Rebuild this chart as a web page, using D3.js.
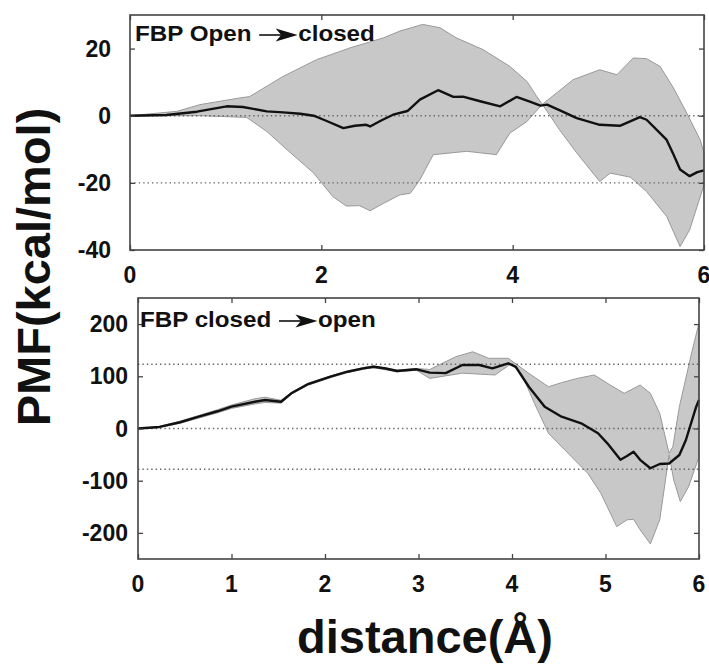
<!DOCTYPE html>
<html>
<head>
<meta charset="utf-8">
<script src="https://cdn.jsdelivr.net/npm/d3@7"></script>
<style>
  html, body { margin: 0; padding: 0; background: #fff; }
  svg { display: block; }
  text { font-family: "Liberation Sans", Arial, sans-serif; font-weight: bold; fill: #111; }
</style>
</head>
<body>
<svg id="chart" width="709" height="665"></svg>
<script>
// ---------- Panel A: FBP open -> closed (kcal/mol) ----------
const openMean = [
  [0, 0], [0.38, 0.2], [0.7, 1.2], [1.01, 2.8], [1.18, 2.6], [1.43, 1.3], [1.6, 1.0], [1.78, 0.6],
  [1.92, 0], [2.05, -1.5], [2.23, -3.7], [2.35, -3.0], [2.47, -2.7], [2.51, -3.2], [2.62, -1.5],
  [2.75, 0.3], [2.9, 1.4], [3.03, 4.8], [3.22, 7.6], [3.38, 5.6], [3.48, 5.7], [3.66, 4.3],
  [3.87, 2.8], [4.04, 5.6], [4.18, 4.2], [4.29, 3.0], [4.36, 3.3], [4.5, 1.5], [4.67, -0.7],
  [4.91, -2.7], [5.12, -3.0], [5.33, -0.4], [5.40, -1.2], [5.54, -5.2], [5.61, -7.2],
  [5.68, -11.5], [5.75, -16.0], [5.85, -18.0], [5.93, -16.8], [6.0, -16.3]
];
const openUpper = [
  [0, 0], [0.49, 1.3], [0.73, 3.3], [1.15, 5.3], [1.25, 5.7], [1.6, 11.7], [1.95, 16.7],
  [2.3, 20.2], [2.65, 23.2], [2.82, 25.2], [3.06, 27.2], [3.24, 26.2], [3.41, 23.2],
  [3.69, 19.7], [3.97, 14.7], [4.15, 10.2], [4.25, 5.8], [4.31, 3.4], [4.46, 6.8],
  [4.63, 10.7], [4.91, 13.7], [5.09, 12.2], [5.26, 17.2], [5.40, 17.0], [5.54, 14.7],
  [5.68, 8.3], [5.82, 0.8], [5.96, -7.2], [6.0, -11.0]
];
const openLower = [
  [0, 0], [0.73, 0], [1.22, -0.5], [1.43, -4.7], [1.64, -10.1], [1.92, -17.1], [2.12, -24.1],
  [2.26, -26.9], [2.40, -26.8], [2.51, -28.3], [2.65, -26.1], [2.82, -23.6], [2.93, -23.1],
  [3.03, -19.1], [3.17, -11.6], [3.52, -10.6], [3.83, -11.6], [3.97, -5.2], [4.15, -1.7],
  [4.31, 3.4], [4.49, -4.2], [4.67, -11.1], [4.91, -19.6], [5.02, -17.1], [5.23, -18.3],
  [5.40, -22.6], [5.61, -30.0], [5.75, -39.0], [5.85, -34.0], [6.0, -20.6]
];
const openRefLines = [0, -20];
const openYTicks = [20, 0, -20, -40];
const openXTicks = [0, 2, 4, 6];

// ---------- Panel B: FBP closed -> open (kcal/mol) ----------
const closedMean = [
  [0, 0], [0.23, 3], [0.45, 12], [0.65, 22.6], [0.85, 33], [1.0, 41.8], [1.25, 51.3],
  [1.36, 54.6], [1.53, 51.3], [1.64, 67.4], [1.82, 85.2], [2.06, 99.2], [2.24, 108.8],
  [2.41, 115.3], [2.52, 118.4], [2.65, 115], [2.77, 110.2], [2.98, 113.4], [3.12, 107],
  [3.29, 106], [3.47, 121.6], [3.65, 121.6], [3.79, 115.3], [3.96, 124.9], [4.04, 118],
  [4.18, 80], [4.35, 41.8], [4.53, 22.6], [4.74, 10], [4.92, -9.2], [5.02, -28.4],
  [5.16, -60], [5.23, -52.7], [5.30, -44.4], [5.37, -60], [5.48, -76.2], [5.58, -68],
  [5.68, -67], [5.79, -50.8], [5.86, -22], [5.97, 41.8], [6.0, 54.6]
];
const closedUpper = [
  [0, 0], [0.23, 4], [0.45, 14], [0.65, 25], [0.85, 36], [1.0, 45], [1.25, 57], [1.36, 60],
  [1.53, 54], [1.64, 69], [1.82, 87], [2.06, 101], [2.24, 110], [2.41, 117], [2.52, 120],
  [2.77, 112], [2.98, 115], [3.12, 113], [3.40, 137.6], [3.58, 147], [3.75, 134.5],
  [3.96, 134.5], [4.18, 105.7], [4.39, 80], [4.53, 87.8], [4.70, 96], [4.88, 102.5],
  [5.05, 83.3], [5.20, 67.4], [5.37, 83.3], [5.48, 67.4], [5.58, 29], [5.68, -47.5],
  [5.72, -35], [5.79, 41.8], [5.92, 144], [5.99, 195], [6.0, 200]
];
const closedLower = [
  [0, 0], [0.23, 2], [0.45, 10], [0.65, 20], [0.85, 30], [1.0, 38.5], [1.25, 47], [1.36, 50],
  [1.53, 48.5], [1.64, 65.5], [1.82, 83], [2.06, 97.5], [2.24, 107], [2.41, 113.5],
  [2.52, 116.5], [2.77, 108.5], [2.98, 111.5], [3.12, 96], [3.47, 106], [3.82, 102.5],
  [3.99, 124], [4.10, 106], [4.24, 48.3], [4.39, -9.2], [4.60, -47.5], [4.81, -85.8],
  [4.95, -124], [5.12, -188], [5.23, -175], [5.30, -174], [5.37, -194], [5.48, -221],
  [5.58, -175], [5.68, -50.8], [5.73, -98.7], [5.80, -140], [5.89, -111], [6.0, -54]
];
const closedRefLines = [123, 0, -78];
const closedYTicks = [200, 100, 0, -100, -200];
const closedXTicks = [0, 1, 2, 3, 4, 5, 6];

const svg = d3.select("#chart");

function drawPanel(cfg) {
  const x = d3.scaleLinear().domain([0, 6]).range([cfg.left, cfg.right]);
  const y = d3.scaleLinear().domain(cfg.yDomain).range([cfg.bottom, cfg.top]);
  const g = svg.append("g");

  // confidence band: upper edge forward, lower edge back
  const poly = cfg.upper.concat(cfg.lower.slice().reverse());
  const line = d3.line().x(d => x(d[0])).y(d => y(d[1]));
  g.append("path")
    .attr("d", line(poly) + "Z")
    .attr("fill", "#c8c8c8")
    .attr("stroke", "#999")
    .attr("stroke-width", 1);

  // dotted reference levels
  g.selectAll("line.ref").data(cfg.refs).join("line")
    .attr("x1", cfg.left).attr("x2", cfg.right)
    .attr("y1", d => y(d)).attr("y2", d => y(d))
    .attr("stroke", "#666").attr("stroke-width", 1.4)
    .attr("stroke-dasharray", "1.4,3");

  // mean PMF
  g.append("path")
    .attr("d", line(cfg.mean))
    .attr("fill", "none")
    .attr("stroke", "#111")
    .attr("stroke-width", 2.4)
    .attr("stroke-linejoin", "round");

  // inward ticks on all four sides
  const tl = 5;
  const axB = d3.axisBottom(x).tickValues(cfg.xTicks).tickSize(-tl).tickFormat("");
  const axT = d3.axisTop(x).tickValues(cfg.xTicks).tickSize(-tl).tickFormat("");
  const axL = d3.axisLeft(y).tickValues(cfg.yTicks).tickSize(-tl).tickFormat("");
  const axR = d3.axisRight(y).tickValues(cfg.yTicks).tickSize(-tl).tickFormat("");
  [[axB, `translate(0,${cfg.bottom})`], [axT, `translate(0,${cfg.top})`],
   [axL, `translate(${cfg.left},0)`], [axR, `translate(${cfg.right},0)`]].forEach(([ax, tr]) => {
    const a = g.append("g").attr("transform", tr).call(ax);
    a.select(".domain").remove();
    a.selectAll("line").attr("stroke", "#444").attr("stroke-width", 1.3);
  });

  // frame
  g.append("rect")
    .attr("x", cfg.left).attr("y", cfg.top)
    .attr("width", cfg.right - cfg.left).attr("height", cfg.bottom - cfg.top)
    .attr("fill", "none").attr("stroke", "#444").attr("stroke-width", 1.6);

  // tick labels
  g.selectAll("text.xl").data(cfg.xTicks).join("text")
    .attr("x", d => x(d)).attr("y", cfg.bottom + cfg.xLabelDrop)
    .attr("text-anchor", "middle").attr("font-size", 23)
    .text(d => d);
  g.selectAll("text.yl").data(cfg.yTicks).join("text")
    .attr("x", cfg.left - cfg.labelGap).attr("y", d => y(d) + 8)
    .attr("text-anchor", "end").attr("font-size", 23)
    .text(d => d);

  // panel caption: "<start> —► <end>"
  const cap = g.append("g")
    .attr("transform", `translate(${cfg.captionX},${cfg.captionY}) scale(1.1,1)`);
  const t1 = cap.append("text").attr("font-size", 22).text(cfg.caption[0]);
  const w1 = t1.node().getComputedTextLength();
  const a0 = w1 + 7, a1 = a0 + 35;
  cap.append("line")
    .attr("x1", a0).attr("x2", a1 - 12)
    .attr("y1", -6).attr("y2", -6)
    .attr("stroke", "#111").attr("stroke-width", 1.6);
  cap.append("path")
    .attr("d", `M${a1 - 20},-12.5 L${a1},-6 L${a1 - 20},0.5 L${a1 - 15},-6 Z`)
    .attr("fill", "#111");
  cap.append("text").attr("x", a1 + 0.5).attr("font-size", 22).text(cfg.caption[1]);
}

drawPanel({
  left: 130, right: 704, top: 15, bottom: 250,
  yDomain: [-40, 30],
  mean: openMean, upper: openUpper, lower: openLower,
  refs: openRefLines, yTicks: openYTicks, xTicks: openXTicks,
  labelGap: 19, xLabelDrop: 33, captionX: 135, captionY: 41,
  caption: ["FBP Open", "closed"]
});

drawPanel({
  left: 138, right: 699, top: 298, bottom: 559,
  yDomain: [-250, 250],
  mean: closedMean, upper: closedUpper, lower: closedLower,
  refs: closedRefLines, yTicks: closedYTicks, xTicks: closedXTicks,
  labelGap: 10, xLabelDrop: 33, captionX: 140, captionY: 327,
  caption: ["FBP closed", "open"]
});

// axis titles
svg.append("text")
  .attr("transform", "translate(50,267) rotate(-90)")
  .attr("text-anchor", "middle").attr("font-size", 47)
  .text("PMF(kcal/mol)");
svg.append("text")
  .attr("x", 425).attr("y", 653)
  .attr("text-anchor", "middle").attr("font-size", 47)
  .text("distance(Å)");
</script>
</body>
</html>
